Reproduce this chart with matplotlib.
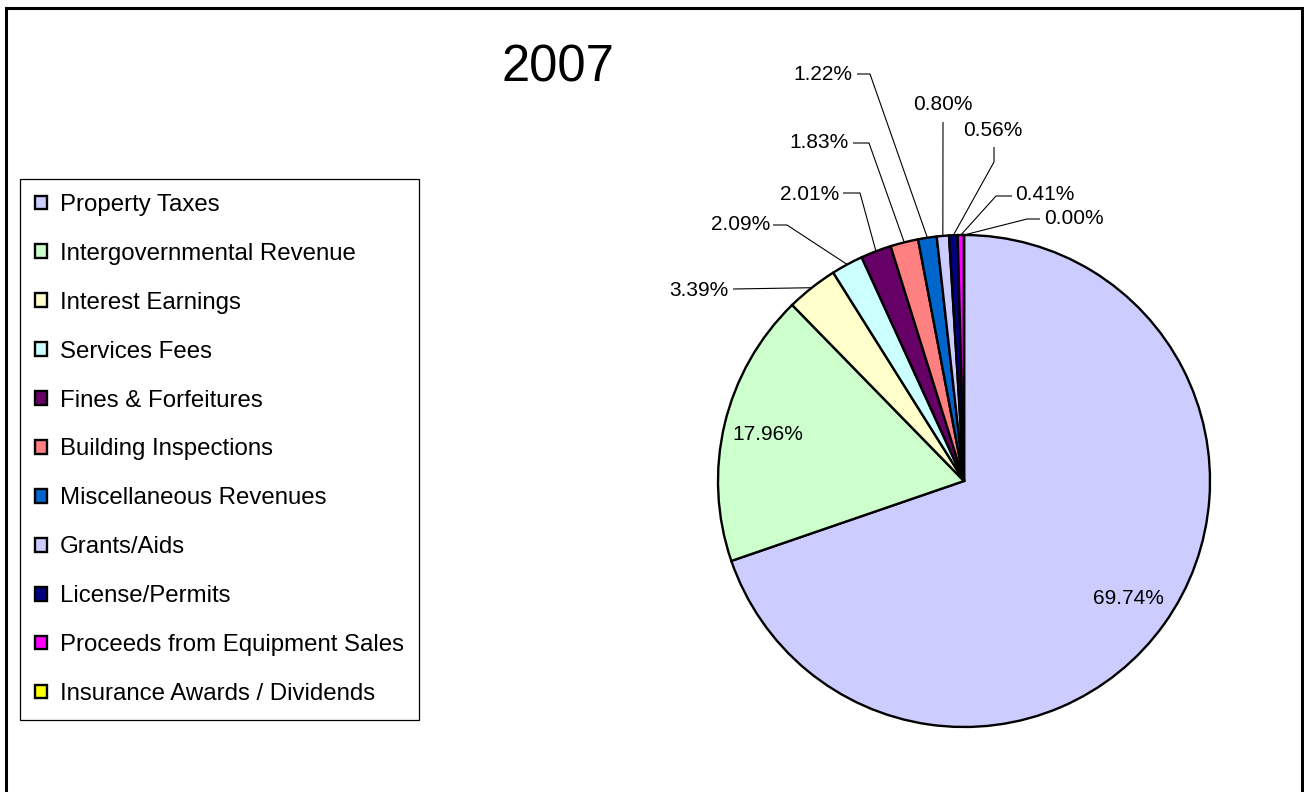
import numpy as np
import matplotlib.pyplot as plt
from matplotlib.patches import Rectangle

plt.rcParams['font.family'] = ['Liberation Sans', 'DejaVu Sans']

# revenue shares, 2007 (percent)
categories = ['Property Taxes', 'Intergovernmental Revenue', 'Interest Earnings',
              'Services Fees', 'Fines & Forfeitures', 'Building Inspections',
              'Miscellaneous Revenues', 'Grants/Aids', 'License/Permits',
              'Proceeds from Equipment Sales', 'Insurance Awards / Dividends']
shares = [69.74, 17.96, 3.39, 2.09, 2.01, 1.83, 1.22, 0.80, 0.56, 0.41, 0.00]
colors = ['#CCCCFF', '#CCFFCC', '#FFFFCC', '#CCFFFF', '#660066', '#FF8080',
          '#0066CC', '#CCCCFF', '#000080', '#FF00FF', '#FFFF00']

W, H = 1304, 792
fig = plt.figure(figsize=(W / 100, H / 100), dpi=100)

# pie sits in a square axes: centre (964, 481) px, radius 246 px
cx, cy, R = 964, 481, 246
ax = fig.add_axes([(cx - R) / W, (H - cy - R) / H, 2 * R / W, 2 * R / H])


def px(x, y):
    # pixel position -> pie data coords
    return (x - cx) / R, (cy - y) / R


wedges, _ = ax.pie(shares, colors=colors, startangle=90, counterclock=False,
                   radius=1, wedgeprops=dict(edgecolor='black', linewidth=1.7))
ax.set_xlim(-1, 1)
ax.set_ylim(-1, 1)
ax.axis('off')

labels = [f'{v:.2f}%' for v in shares]

# the two big slices get their labels inside
for i in (0, 1):
    w = wedges[i]
    mid = np.deg2rad((w.theta1 + w.theta2) / 2)
    ax.text(0.82 * np.cos(mid), 0.82 * np.sin(mid), labels[i],
            ha='center', va='center', fontsize=15)

# small slices: text position, text alignment, leader line start and elbow (px)
callouts = {
    2: ((728, 290), 'right', [(733, 289)]),
    3: ((770, 225), 'right', [(773, 225), (787, 225)]),
    4: ((839, 194), 'right', [(843, 193), (860, 193)]),
    5: ((849, 143), 'right', [(853, 143), (869, 143)]),
    6: ((852, 75), 'right', [(857, 74), (870, 74)]),
    7: ((943, 104), 'center', [(943, 122)]),
    8: ((993, 130), 'center', [(994, 147), (994, 162)]),
    9: ((1015, 195), 'left', [(1012, 196), (996, 196)]),
    10: ((1044, 219), 'left', [(1040, 219), (1027, 219)]),
}
for i, ((tx, ty), ha, pts) in callouts.items():
    w = wedges[i]
    mid = np.deg2rad((w.theta1 + w.theta2) / 2)
    path = [px(*p) for p in pts] + [(np.cos(mid), np.sin(mid))]
    xs, ys = zip(*path)
    ax.plot(xs, ys, color='black', linewidth=0.8, solid_capstyle='butt',
            clip_on=False)
    ax.text(*px(tx, ty), labels[i], ha=ha, va='center', fontsize=15,
            clip_on=False)

fig.text(558 / W, 1 - 82 / H, '2007', ha='center', va='baseline', fontsize=36.5)

leg = fig.legend(wedges, categories, loc='upper left',
                 bbox_to_anchor=(20 / W, 1 - 179 / H), borderaxespad=0,
                 fontsize=17.3, handlelength=0.5, handleheight=0.5,
                 handletextpad=0.55, labelspacing=1.12, borderpad=0.62,
                 fancybox=False, framealpha=1, edgecolor='black')
leg.get_frame().set_linewidth(0.9)

# outer border
fig.patches.append(Rectangle((6 / W, -0.02), (1302 - 6) / W, 1.02 - 8 / H,
                             transform=fig.transFigure, fill=False,
                             edgecolor='black', linewidth=2.2))

fig.savefig('out.png', dpi=100)
